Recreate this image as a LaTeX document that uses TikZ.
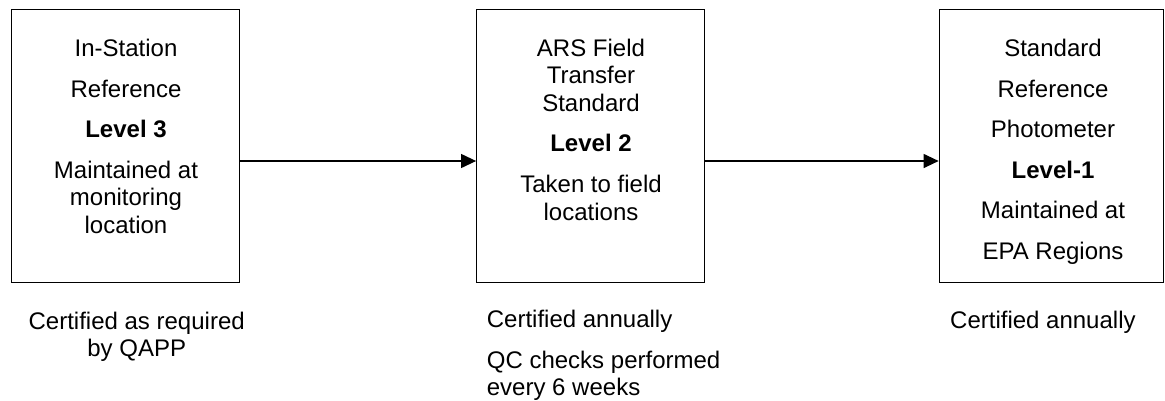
\documentclass[tikz,border=0pt]{standalone}
\usepackage{fontspec}
\setmainfont{Liberation Sans}
\usetikzlibrary{arrows.meta}
\tikzset{
  box/.style={draw=black, line width=1.2pt, rectangle, inner sep=0pt},
  txt/.style={anchor=base, inner sep=0pt, font=\fontsize{24}{27.5}\selectfont},
  ltxt/.style={anchor=base west, inner sep=0pt, font=\fontsize{24}{27.5}\selectfont},
  arr/.style={line width=1.2pt, -{Triangle[length=15pt,width=14pt]}}
}
\begin{document}
\begin{tikzpicture}[x=1pt,y=-1pt]
\useasboundingbox (0,0) rectangle (1165,400);
% boxes
\node[box, minimum width=227.6pt, minimum height=273pt] (box1) at (125.5,146) {};
\node[box, minimum width=227.6pt, minimum height=273pt] (box2) at (590.5,146) {};
\node[box, minimum width=224.5pt, minimum height=273pt] (box3) at (1051.5,146) {};
% box 1 text
\node[txt] (a1) at (126,56) {In-Station};
\node[txt] (a2) at (126,97) {Reference};
\node[txt] (a3) at (126,137) {\bfseries Level 3};
\node[txt] (a4) at (126,178) {Maintained at};
\node[txt] (a5) at (126,205.5) {monitoring};
\node[txt] (a6) at (126,233) {location};
% box 2 text
\node[txt] (b1) at (591,56) {ARS Field};
\node[txt] (b2) at (591,83.5) {Transfer};
\node[txt] (b3) at (591,111) {Standard};
\node[txt] (b4) at (591,151) {\bfseries Level 2};
\node[txt] (b5) at (591,192.5) {Taken to field};
\node[txt] (b6) at (591,220) {locations};
% box 3 text
\node[txt] (c1) at (1053,56) {Standard};
\node[txt] (c2) at (1053,97) {Reference};
\node[txt] (c3) at (1053,137.5) {Photometer};
\node[txt] (c4) at (1053,178) {\bfseries Level-1};
\node[txt] (c5) at (1053,218.5) {Maintained at};
\node[txt] (c6) at (1053,259) {EPA Regions};
% notes
\node[txt] (n1) at (136.7,329.5) {Certified as required};
\node[txt] (n2) at (136.7,356) {by QAPP};
\node[ltxt] (m1) at (486.7,327) {Certified annually};
\node[ltxt] (m2) at (486.7,368) {QC checks performed};
\node[ltxt] (m3) at (486.7,395) {every 6 weeks};
\node[ltxt] (r1) at (950,328) {Certified annually};
% arrows
\draw[arr] ([yshift=-15pt]box1.east) -- ([yshift=-15pt]box2.west);
\draw[arr] ([yshift=-15pt]box2.east) -- ([yshift=-15pt]box3.west);
\end{tikzpicture}
\end{document}
